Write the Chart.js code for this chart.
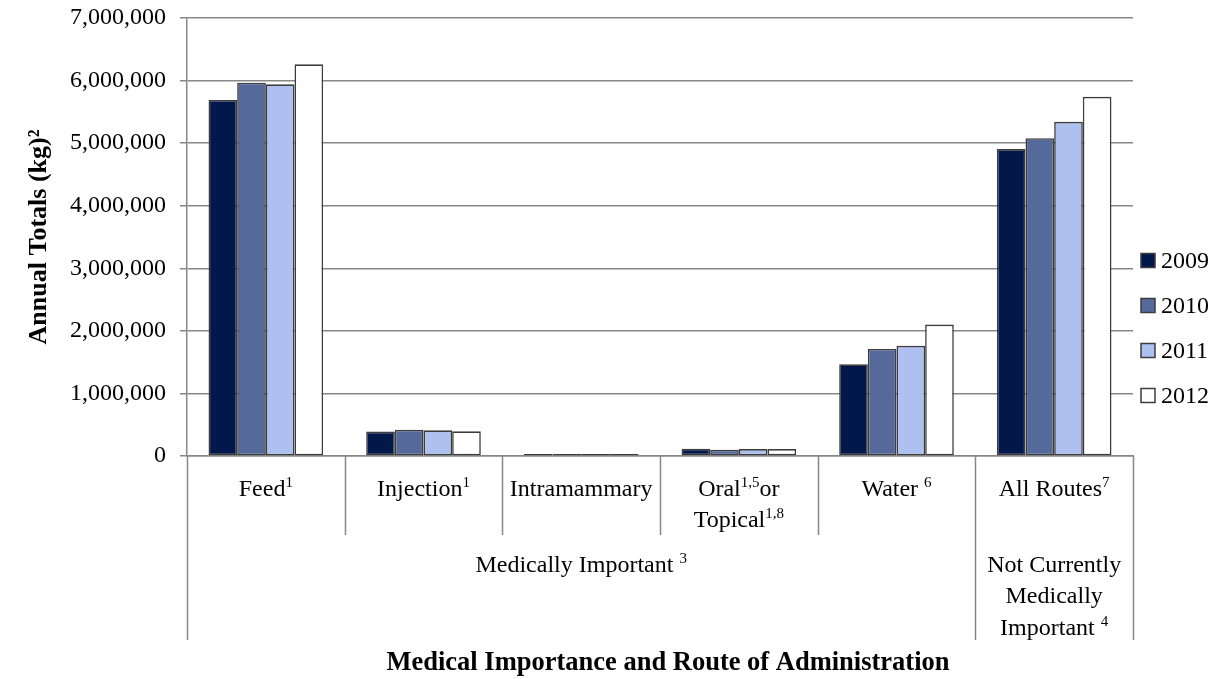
<!DOCTYPE html>
<html><head><meta charset="utf-8">
<script src="https://cdn.jsdelivr.net/npm/chart.js@4.4.1/dist/chart.umd.min.js"></script>
<style>html,body{margin:0;padding:0;background:#fff;}canvas{display:block;}</style>
</head><body>
<canvas id="c" width="1220" height="679"></canvas>
<script>
// ---- data ----
const categories = ['Feed', 'Injection', 'Intramammary', 'Oral or Topical', 'Water', 'All Routes'];
const categoryLabels = [['Feed^{1}'], ['Injection^{1}'], ['Intramammary'], ['Oral^{1,5}or', 'Topical^{1,8}'], ['Water ^{6}'], ['All Routes^{7}']];
const groupLabels = [['Medically Important ^{3}'], ['Not Currently', 'Medically', 'Important ^{4}']];
const groupSpans = [[0, 4], [5, 5]];
const years = ['2009', '2010', '2011', '2012'];
const values2009 = [5690000, 390000, 28000, 117000, 1465000, 4905000];
const values2010 = [5966000, 420000, 30000, 100000, 1710000, 5080000];
const values2011 = [5940000, 410000, 20000, 110000, 1760000, 5340000];
const values2012 = [6260000, 395000, 27000, 110000, 2100000, 5740000];
const yTickValues = [0, 1000000, 2000000, 3000000, 4000000, 5000000, 6000000, 7000000];
const yTickLabels = ['0', '1,000,000', '2,000,000', '3,000,000', '4,000,000', '5,000,000', '6,000,000', '7,000,000'];
const yAxisTitle = 'Annual Totals (kg)\u00B2';
const xAxisTitle = 'Medical Importance and Route of Administration';
const seriesValues = [values2009, values2010, values2011, values2012];
const seriesColors = ['#02174a', '#556a9a', '#adc0ef', '#ffffff'];

// ---- styles ----
const FONT = "'Liberation Serif', 'Times New Roman', serif";
const LINE = '#878787';
const BORDER = '#3c3c3c';

function drawRich(ctx, str, cx, cy, size, align) {
  const parts = [];
  const re = /\^\{([^}]*)\}/g;
  let last = 0, m;
  while ((m = re.exec(str)) !== null) {
    if (m.index > last) parts.push([str.slice(last, m.index), false]);
    parts.push([m[1], true]);
    last = re.lastIndex;
  }
  if (last < str.length) parts.push([str.slice(last), false]);
  const supSize = Math.round(size * 0.62);
  const mainF = size + 'px ' + FONT, supF = supSize + 'px ' + FONT;
  let w = 0;
  parts.forEach(p => { ctx.font = p[1] ? supF : mainF; w += ctx.measureText(p[0]).width; });
  let x = align === 'left' ? cx : cx - w / 2;
  const base = cy + size * 0.33;
  ctx.textAlign = 'left';
  ctx.textBaseline = 'alphabetic';
  parts.forEach(p => {
    ctx.font = p[1] ? supF : mainF;
    ctx.fillText(p[0], x, p[1] ? base - size * 0.36 : base);
    x += ctx.measureText(p[0]).width;
  });
}

const multiLevelAxis = {
  id: 'multiLevelAxis',
  afterDraw(chart) {
    const ctx = chart.ctx;
    const xs = chart.scales.x;
    const area = chart.chartArea;
    const n = categories.length;
    const step = (xs.getPixelForValue(n - 1) - xs.getPixelForValue(0)) / (n - 1);
    const edge = i => xs.getPixelForValue(i) - step / 2;
    const top = area.bottom;
    ctx.save();
    ctx.strokeStyle = LINE;
    ctx.lineWidth = 1.5;
    const longEdges = new Set();
    groupSpans.forEach(g => { longEdges.add(g[0]); longEdges.add(g[1] + 1); });
    for (let i = 0; i <= n; i++) {
      const x = Math.round(edge(i)) + 0.5;
      const bottom = longEdges.has(i) ? 640 : 535;
      ctx.beginPath();
      ctx.moveTo(x, top);
      ctx.lineTo(x, bottom);
      ctx.stroke();
    }
    ctx.fillStyle = '#000';
    categoryLabels.forEach((lines, i) => {
      const cx = xs.getPixelForValue(i);
      lines.forEach((ln, k) => drawRich(ctx, ln, cx, 488 + k * 31, 24));
    });
    groupLabels.forEach((lines, gi) => {
      const g = groupSpans[gi];
      const cx = (edge(g[0]) + edge(g[1] + 1)) / 2;
      lines.forEach((ln, k) => drawRich(ctx, ln, cx, 564 + k * 31.5, 24));
    });
    ctx.font = 'bold 26.5px ' + FONT;
    ctx.textAlign = 'center';
    ctx.textBaseline = 'middle';
    ctx.fillText(xAxisTitle, (area.left + area.right) / 2 + 8, 663);
    chart.data.datasets.forEach((ds, i) => {
      const cy = 260.5 + i * 45;
      ctx.fillStyle = ds.backgroundColor;
      ctx.fillRect(1141, cy - 7, 14, 14);
      ctx.strokeStyle = BORDER;
      ctx.lineWidth = 1.5;
      ctx.strokeRect(1141, cy - 7, 14, 14);
      ctx.fillStyle = '#000';
      ctx.font = '24px ' + FONT;
      ctx.textAlign = 'left';
      ctx.textBaseline = 'middle';
      ctx.fillText(ds.label, 1161, cy + 1);
    });
    ctx.restore();
  }
};

new Chart(document.getElementById('c'), {
  type: 'bar',
  data: {
    labels: categories,
    datasets: years.map((y, i) => ({
      label: y,
      data: seriesValues[i],
      backgroundColor: seriesColors[i],
      borderColor: BORDER,
      borderWidth: 1.6,
      borderSkipped: false,
      minBarLength: 2,
      categoryPercentage: 0.727,
      barPercentage: 1.0
    }))
  },
  options: {
    responsive: false,
    animation: false,
    devicePixelRatio: 1,
    layout: { padding: { top: 18, right: 87, left: 0, bottom: 0 } },
    plugins: { legend: { display: false }, tooltip: { enabled: false } },
    scales: {
      x: {
        grid: { display: false },
        border: { display: true, color: LINE, width: 1.5 },
        ticks: { display: false },
        afterFit(s) { s.height = 679 - 456; s.paddingLeft = 0; s.paddingRight = 0; }
      },
      y: {
        min: 0, max: 7000000,
        afterBuildTicks(s) { s.ticks = yTickValues.map(v => ({ value: v })); },
        ticks: {
          callback: (v) => yTickLabels[yTickValues.indexOf(v)],
          font: { family: FONT, size: 24 },
          color: '#000',
          padding: 14
        },
        grid: { color: LINE, lineWidth: 1.5, tickLength: 7, drawTicks: true },
        border: { display: true, color: LINE, width: 1.5 },
        title: {
          display: true, text: yAxisTitle, color: '#000',
          font: { family: FONT, size: 26, weight: 'bold' },
          padding: { top: 24, bottom: 0 }
        },
        afterFit(s) { s.width = 187; s.paddingTop = 0; s.paddingBottom = 0; }
      }
    }
  },
  plugins: [multiLevelAxis]
});
</script>
</body></html>
